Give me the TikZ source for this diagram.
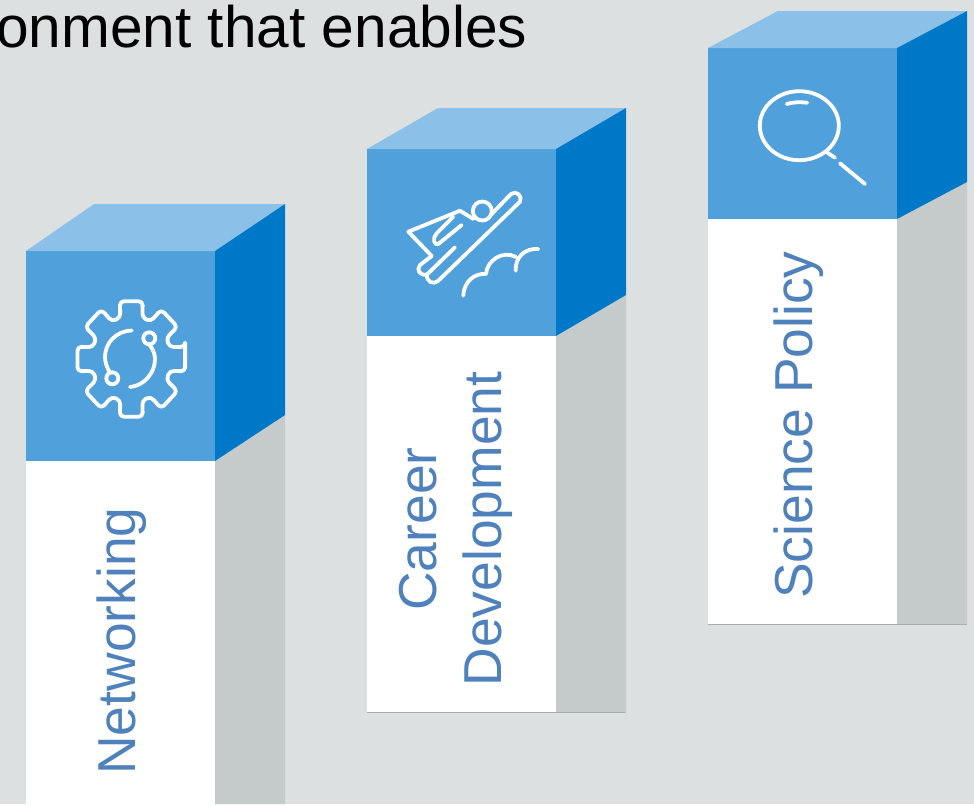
\documentclass[tikz,border=0pt]{standalone}
\usepackage{fontspec}
\setmainfont{Liberation Sans}
\definecolor{wallgrey}{HTML}{DCE0E1}
\definecolor{frontblue}{HTML}{4FA0DB}
\definecolor{topblue}{HTML}{8BC1E8}
\definecolor{sideblue}{HTML}{0078C8}
\definecolor{sidegrey}{HTML}{C4CBCA}
\definecolor{edgegrey}{HTML}{ABAFAF}
\definecolor{labelblue}{HTML}{4F81BD}
\begin{document}
\begin{tikzpicture}[x = 1pt, y = -1pt,
    label/.style = {rotate = 90, text = labelblue, font = \fontsize{53.4}{65}\selectfont},
    icon/.style = {draw = white, line width = 3.8pt, line cap = round, line join = round}]
  \useasboundingbox (0,0) rectangle (974,804);
  \clip (0,0) rectangle (974,804);
  \fill[wallgrey] (0,0) rectangle (974,804);
  \node[anchor = base east, font = \fontsize{58.6}{70}\selectfont, text = black, inner sep = 0pt] (headline) at (527.5,47) {onment that enables};
  % networking
  \fill[white] (26,461) rectangle (215,804);
  \fill[sidegrey] (215,461) -- (285,415) -- (285,804) -- (215,804) -- cycle;
  \fill[frontblue] (26,251) rectangle (215,461);
  \fill[topblue] (26,251) -- (94,204) -- (285,204) -- (215,251) -- cycle;
  \fill[sideblue] (215,251) -- (285,204) -- (285,415) -- (215,461) -- cycle;
  % career
  \fill[white] (367,336) rectangle (556,712);
  \fill[sidegrey] (556,336) -- (626,295) -- (626,712) -- (556,712) -- cycle;
  \fill[frontblue] (367,149) rectangle (556,336);
  \fill[topblue] (367,149) -- (438,108) -- (626,108) -- (556,149) -- cycle;
  \fill[sideblue] (556,149) -- (626,108) -- (626,295) -- (556,336) -- cycle;
  \draw[edgegrey, line width = 1pt] (367,712.5) -- (626,712.5);
  % policy
  \fill[white] (708,219) rectangle (897,624);
  \fill[sidegrey] (897,219) -- (967,182) -- (967,624) -- (897,624) -- cycle;
  \fill[frontblue] (708,48) rectangle (897,219);
  \fill[topblue] (708,48) -- (778,11) -- (967,11) -- (897,48) -- cycle;
  \fill[sideblue] (897,48) -- (967,11) -- (967,182) -- (897,219) -- cycle;
  \draw[edgegrey, line width = 1pt] (708,624.5) -- (967,624.5);
  % labels
  \node[label, anchor = base] (networking) at (135,641) {Networking};
  \node[label, align = center] (career) at (456,529) {Career\\Development};
  \node[label, anchor = base] (policy) at (812.5,425) {Science Policy};
  % gear
  \draw[icon, rounded corners = 4pt] (131.3,359) ++ (-12:55 and 59)
    \foreach \a in {0,45,...,315} {
      -- ([shift = {(131.3,359)}] \a-12:55 and 59) -- ([shift = {(131.3,359)}] \a+12:55 and 59)
      -- ([shift = {(131.3,359)}] \a+16:40 and 43) -- ([shift = {(131.3,359)}] \a+29:40 and 43) } -- cycle;
  \draw[icon] (112.3,378.3) circle (6) (149.3,338.3) circle (6);
  \draw[icon] (131.7,330.5) .. controls (116,331) and (105,343) .. (105,357)
    .. controls (105,362) and (107,368) .. (110,372.5);
  \draw[icon] (149.3,344.5) .. controls (154,350) and (155,356) .. (155,359)
    .. controls (155,374) and (143,386) .. (130,387);
  % flyer
  \draw[icon] (473.3,219) -- (460,210.7) -- (408.3,231.7) -- (431.7,256);
  \draw[icon] (431.7,256) -- (420,265) .. controls (416,270) and (420,276) .. (427,274.5) -- (455,247.3);
  \draw[icon] (427,274.5) .. controls (426,282) and (434,285) .. (438,281) -- (520,201.7)
    .. controls (523,196) and (516,190) .. (511,194) -- (490.7,215);
  \draw[icon] (482.3,211) circle (9.5);
  \draw[icon] (453.3,216.7) -- (436.7,233.3) .. controls (432,238) and (434,246) .. (438.3,244) -- (461.7,225);
  \draw[icon] (463.3,295.7) .. controls (464,281) and (475,273) .. (486,274)
    .. controls (487,260) and (503,250) .. (516,257);
  \draw[icon] (515.7,270.7) .. controls (515,257) and (525,248) .. (538.3,249);
  % lens
  \draw[icon] (799.3,125.7) ellipse (39.5 and 34.5);
  \draw[icon] (786.7,104) .. controls (793,102) and (800,102) .. (807.3,102.7);
  \draw[icon] (827.3,152.7) -- (835,157.7);
  \draw[icon] (840,163.3) -- (865,184);
\end{tikzpicture}
\end{document}
